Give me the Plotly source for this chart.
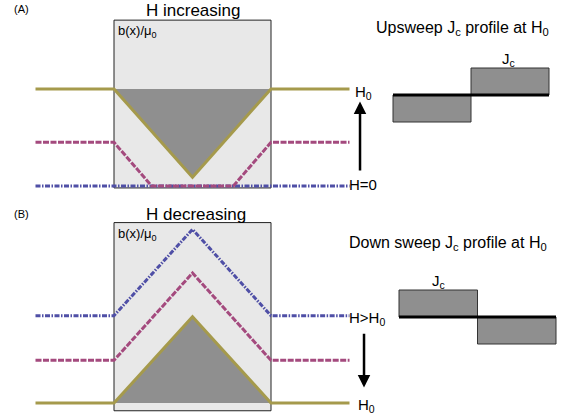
import plotly.graph_objects as go

# ---------------- data (slab position x in half-widths, field b in units of H0) ----
# Panel A: H increasing (virgin flux penetration)
xA = [-2, -1, 0, 1, 2]
bA_H0 = [1.0, 1.0, 0.09, 1.0, 1.0]            # gold, H = H0
xA_mid = [-2, -1, -0.52, 0.52, 1, 2]
bA_mid = [0.45, 0.45, 0.0, 0.0, 0.45, 0.45]   # magenta, intermediate H
xA_zero = [-2, 2]
bA_zero = [0.0, 0.0]                           # blue, H = 0
boxA = [-0.02, 1.71]

# Panel B: H decreasing
xB = [-2, -1, 0, 1, 2]
bB_high = [1.90, 1.90, 2.79, 1.90, 1.90]       # blue, H > H0
bB_mid = [1.44, 1.44, 2.34, 1.44, 1.44]        # magenta
bB_H0 = [1.0, 1.0, 1.89, 1.0, 1.0]             # gold, H = H0
boxB = [0.92, 2.86]

# Jc profiles
jc_x = [-0.5, 0.5]
jc_up = [-1, 1]
jc_down = [1, -1]

GOLD = "#a59a4c"
MAG = "#a44a7e"
BLUE = "#4f4fa6"
FILL = "#8f8f8f"
FONT = "Liberation Sans"
DASH_MAG = "6px,1.5px"
DASH_BLUE = "5px,1.5px,1.5px,1.5px"

fig = go.Figure()

# Panel A ---------------------------------------------------------
fig.add_trace(go.Scatter(x=xA[1:4], y=bA_H0[1:4], fill="toself", fillcolor=FILL,
                         line=dict(width=0), mode="lines", xaxis="x", yaxis="y",
                         hoverinfo="skip"))
fig.add_trace(go.Scatter(x=xA_zero, y=bA_zero, mode="lines",
                         line=dict(color=BLUE, width=3, dash=DASH_BLUE),
                         xaxis="x", yaxis="y"))
fig.add_trace(go.Scatter(x=xA_mid, y=bA_mid, mode="lines",
                         line=dict(color=MAG, width=3, dash=DASH_MAG),
                         xaxis="x", yaxis="y"))
fig.add_trace(go.Scatter(x=xA, y=bA_H0, mode="lines",
                         line=dict(color=GOLD, width=3), xaxis="x", yaxis="y"))

# Panel B ---------------------------------------------------------
fig.add_trace(go.Scatter(x=xB[1:4], y=bB_H0[1:4], fill="toself", fillcolor=FILL,
                         line=dict(width=0), mode="lines", xaxis="x2", yaxis="y2",
                         hoverinfo="skip"))
fig.add_trace(go.Scatter(x=xB, y=bB_H0, mode="lines",
                         line=dict(color=GOLD, width=3), xaxis="x2", yaxis="y2"))
fig.add_trace(go.Scatter(x=xB, y=bB_mid, mode="lines",
                         line=dict(color=MAG, width=3, dash=DASH_MAG),
                         xaxis="x2", yaxis="y2"))
fig.add_trace(go.Scatter(x=xB, y=bB_high, mode="lines",
                         line=dict(color=BLUE, width=3, dash=DASH_BLUE),
                         xaxis="x2", yaxis="y2"))

# Jc profiles -----------------------------------------------------
fig.add_trace(go.Bar(x=jc_x, y=jc_up, width=1, marker=dict(color=FILL, line=dict(color="#333333", width=1)),
                     xaxis="x3", yaxis="y3"))
fig.add_trace(go.Scatter(x=[-1, 1], y=[0, 0], mode="lines", line=dict(color="black", width=3),
                         xaxis="x3", yaxis="y3"))
fig.add_trace(go.Bar(x=jc_x, y=jc_down, width=1, marker=dict(color=FILL, line=dict(color="#333333", width=1)),
                     xaxis="x4", yaxis="y4"))
fig.add_trace(go.Scatter(x=[-1, 1], y=[0, 0], mode="lines", line=dict(color="black", width=3),
                         xaxis="x4", yaxis="y4"))

hidden = dict(visible=False, showgrid=False, zeroline=False, fixedrange=True)
topdom = [1 - 200 / 418, 1]
botdom = [0, 1 - 200 / 418]

shapes = [
    dict(type="rect", xref="x", yref="y", x0=-1, x1=1, y0=boxA[0], y1=boxA[1],
         fillcolor="#e8e8e8", line=dict(color="#222222", width=1), layer="below"),
    dict(type="rect", xref="x2", yref="y2", x0=-1, x1=1, y0=boxB[0], y1=boxB[1],
         fillcolor="#e8e8e8", line=dict(color="#222222", width=1), layer="below"),
]

ann = []
def txt(x, y, s, size, xref="paper", yref="paper", xanchor="center"):
    ann.append(dict(x=x, y=y, xref=xref, yref=yref, text=s, showarrow=False,
                    xanchor=xanchor, yanchor="middle",
                    font=dict(family=FONT, size=size, color="black")))

def px(xp, yp):
    return xp / 569, 1 - yp / 418

txt(*px(12, 9), "(A)", 11, xanchor="left")
txt(*px(12, 214), "(B)", 11, xanchor="left")
txt(*px(193, 11), "H increasing", 17)
txt(*px(196, 215), "H decreasing", 17)
txt(*px(116, 31), "b(x)/μ<sub>0</sub>", 13, xanchor="left")
txt(*px(116, 234), "b(x)/μ<sub>0</sub>", 13, xanchor="left")
txt(*px(462, 28), "Upsweep J<sub>c</sub> profile at H<sub>0</sub>", 16)
txt(*px(448, 243), "Down sweep J<sub>c</sub> profile at H<sub>0</sub>", 16)
txt(*px(508, 59), "J<sub>c</sub>", 15)
txt(*px(438, 281), "J<sub>c</sub>", 15)
txt(*px(353, 92), "H<sub>0</sub>", 15, xanchor="left")
txt(*px(347, 184), "H=0", 15, xanchor="left")
txt(*px(347, 318), "H>H<sub>0</sub>", 15, xanchor="left")
txt(*px(356, 405), "H<sub>0</sub>", 15, xanchor="left")

# arrows
ann.append(dict(x=2.134, y=0.87, ax=2.134, ay=0.145, xref="x", yref="y", axref="x", ayref="y",
                showarrow=True, arrowhead=2, arrowsize=1, arrowwidth=2.5, arrowcolor="black", text=""))
ann.append(dict(x=2.185, y=1.16, ax=2.185, ay=1.73, xref="x2", yref="y2", axref="x2", ayref="y2",
                showarrow=True, arrowhead=2, arrowsize=1, arrowwidth=2.5, arrowcolor="black", text=""))

fig.update_layout(
    width=569, height=418, margin=dict(l=0, r=0, t=0, b=0),
    paper_bgcolor="white", plot_bgcolor="rgba(0,0,0,0)", showlegend=False,
    barmode="overlay",
    xaxis=dict(hidden, domain=[0, 1], range=[(0 - 192.5) / 78.5, (569 - 192.5) / 78.5], anchor="y"),
    yaxis=dict(hidden, domain=topdom, range=[(186 - 200) / 97, 186 / 97], anchor="x"),
    xaxis2=dict(hidden, domain=[0, 1], range=[(0 - 192.5) / 78.5, (569 - 192.5) / 78.5], anchor="y2"),
    yaxis2=dict(hidden, domain=botdom, range=[1 + (403 - 418) / 97, 1 + (403 - 200) / 97], anchor="x2"),
    xaxis3=dict(hidden, domain=[0, 1], range=[(0 - 471) / 78, (569 - 471) / 78], anchor="y3"),
    yaxis3=dict(hidden, domain=topdom, range=[(95 - 200) / 27, 95 / 27], anchor="x3"),
    xaxis4=dict(hidden, domain=[0, 1], range=[(0 - 477.5) / 78.5, (569 - 477.5) / 78.5], anchor="y4"),
    yaxis4=dict(hidden, domain=botdom, range=[(317 - 418) / 27, (317 - 200) / 27], anchor="x4"),
    shapes=shapes, annotations=ann,
)

fig.write_html("out.html")
